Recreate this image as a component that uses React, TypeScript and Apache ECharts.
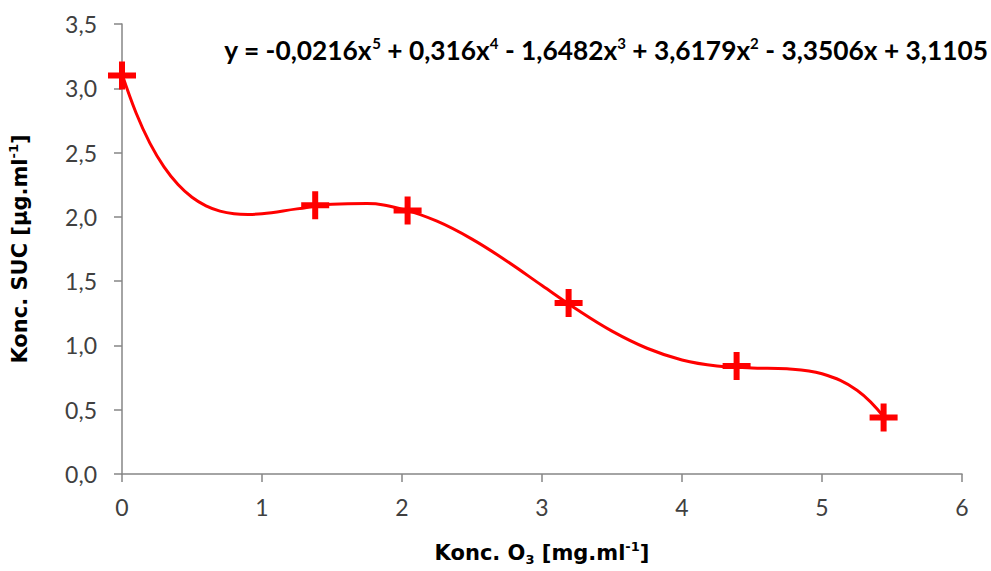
import React, { useEffect, useRef } from "react";
import * as echarts from "echarts";

// Measured points (Konc. O3, Konc. SUC)
const pointX = [0, 1.38, 2.04, 3.19, 4.39, 5.44];
const pointY = [3.1, 2.09, 2.05, 1.33, 0.84, 0.44];

// Trendline (polynomial fit drawn by the source)
const trendX = [0, 0.1, 0.2, 0.3, 0.4, 0.5, 0.6, 0.7, 0.8, 0.9, 1, 1.25, 1.5, 1.75, 2, 2.25, 2.5, 2.75, 3, 3.25, 3.5, 3.75, 4, 4.25, 4.5, 4.75, 5, 5.25, 5.45];
const trendY = [3.111, 2.81, 2.572, 2.389, 2.252, 2.153, 2.086, 2.045, 2.024, 2.019, 2.024, 2.062, 2.098, 2.103, 2.06, 1.966, 1.827, 1.655, 1.466, 1.279, 1.111, 0.978, 0.887, 0.84, 0.825, 0.818, 0.78, 0.652, 0.434];

const xTicks = [0, 1, 2, 3, 4, 5, 6];
const yTicks = [0, 0.5, 1, 1.5, 2, 2.5, 3, 3.5];

const FONT = "Lato";
const TITLE_FONT = "DejaVu Sans";
const RED = "#ff0000";

export default function App() {
  const ref = useRef<HTMLDivElement>(null);
  useEffect(() => {
    document.body.style.margin = "0";
    const chart = echarts.init(ref.current!, null, { renderer: "svg" });
    const cross = "path://M0,11 H11 V0 H17 V11 H28 V17 H17 V28 H11 V17 H0 Z";
    const titleRich = {
      a: { fontFamily: TITLE_FONT, fontWeight: "bold", fontSize: 21, color: "#000", lineHeight: 26 },
      s: { fontFamily: TITLE_FONT, fontWeight: "bold", fontSize: 13, color: "#000", verticalAlign: "bottom", lineHeight: 17 },
      u: { fontFamily: TITLE_FONT, fontWeight: "bold", fontSize: 13, color: "#000", verticalAlign: "top", lineHeight: 13 },
    };
    chart.setOption({
      animation: false,
      backgroundColor: "#ffffff",
      grid: { left: 122, right: 29, top: 24, bottom: 97, containLabel: false, outerBoundsMode: "none" },
      xAxis: {
        type: "value",
        min: xTicks[0],
        max: xTicks[xTicks.length - 1],
        interval: 1,
        axisLine: { show: true, lineStyle: { color: "#868686", width: 1.5 } },
        axisTick: { show: true, length: 8, lineStyle: { color: "#868686", width: 1.5 } },
        splitLine: { show: false },
        axisLabel: { color: "#404040", fontFamily: FONT, fontSize: 23, margin: 21 },
        name: "{a|Konc. O}{s|3}{a| [mg.ml}{u|-1}{a|]}",
        nameLocation: "middle",
        nameGap: 66,
        nameTextStyle: { rich: titleRich },
      },
      yAxis: {
        type: "value",
        min: yTicks[0],
        max: yTicks[yTicks.length - 1],
        interval: 0.5,
        axisLine: { show: true, lineStyle: { color: "#868686", width: 1.5 } },
        axisTick: { show: true, length: 8, lineStyle: { color: "#868686", width: 1.5 } },
        splitLine: { show: false },
        axisLabel: {
          color: "#404040",
          fontFamily: FONT,
          fontSize: 23,
          margin: 25,
          formatter: (v: number) => v.toFixed(1).replace(".", ","),
        },
        name: "{a|Konc. SUC [µg.ml}{u|-1}{a|]}",
        nameLocation: "middle",
        nameRotate: 90,
        nameGap: 89,
        nameTextStyle: { rich: titleRich },
      },
      graphic: [
        {
          type: "text",
          right: 3,
          top: 35,
          style: {
            text: "{a|y = -0,0216x}{u|5}{a| + 0,316x}{u|4}{a| - 1,6482x}{u|3}{a| + 3,6179x}{u|2}{a| - 3,3506x + 3,1105}",
            rich: {
              a: { fontFamily: FONT, fontWeight: "bold", fontSize: 26.3, fill: "#000", lineHeight: 30 },
              u: { fontFamily: FONT, fontWeight: "bold", fontSize: 15, fill: "#000", verticalAlign: "top", lineHeight: 17 },
            },
          },
        },
      ],
      series: [
        {
          type: "line",
          data: trendX.map((x, i) => [x, trendY[i]]),
          smooth: 0.4,
          showSymbol: false,
          lineStyle: { color: RED, width: 3 },
          z: 2,
        },
        {
          type: "scatter",
          data: pointX.map((x, i) => [x, pointY[i]]),
          symbol: cross,
          symbolSize: 28,
          itemStyle: { color: RED, opacity: 1 },
          z: 3,
        },
      ],
    });
    return () => chart.dispose();
  }, []);
  return <div ref={ref} style={{ position: "absolute", left: 0, top: 0, width: 991, height: 571 }} />;
}
